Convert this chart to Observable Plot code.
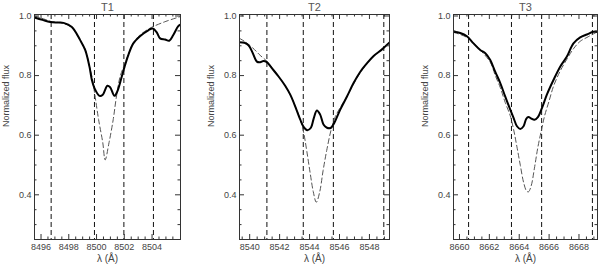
<!DOCTYPE html>
<html><head><meta charset="utf-8">
<script src="https://cdn.jsdelivr.net/npm/d3@7"></script>
<script src="https://cdn.jsdelivr.net/npm/@observablehq/plot@0.6"></script>
<style>
body{margin:0;background:#fff}
#wrap{position:relative;width:600px;height:268px;overflow:hidden;background:#fff}
#wrap svg{position:absolute;top:0}
</style></head><body><div id="wrap"></div>
<script>
// ---- data ----
const panelTitles = ["T1", "T2", "T3"];

// T1 observed (solid) spectrum
const t1Wave = [8495.53, 8496.10, 8496.66, 8497.20, 8497.62, 8498.22, 8498.82, 8499.18, 8499.49, 8499.66, 8499.85, 8500.21, 8500.45, 8500.78, 8500.98, 8501.29, 8501.50, 8501.82, 8501.99, 8502.29, 8502.65, 8503.13, 8503.73, 8504.05, 8504.34, 8504.58, 8504.94, 8505.24, 8505.53, 8505.89, 8506.04];
const t1Flux = [0.995, 0.987, 0.980, 0.978, 0.977, 0.963, 0.919, 0.886, 0.830, 0.786, 0.758, 0.732, 0.736, 0.766, 0.761, 0.732, 0.747, 0.797, 0.825, 0.869, 0.908, 0.932, 0.952, 0.958, 0.945, 0.925, 0.921, 0.917, 0.936, 0.966, 0.971];
// T1 model (dashed)
const t1ModelWave = [8495.53, 8496.20, 8496.70, 8497.60, 8498.20, 8498.80, 8499.20, 8499.50, 8499.70, 8499.85, 8500.15, 8500.45, 8500.62, 8500.90, 8501.20, 8501.42, 8501.70, 8502.00, 8502.30, 8502.65, 8503.10, 8503.70, 8504.10, 8505.00, 8506.04];
const t1Model = [1.000, 0.990, 0.982, 0.975, 0.962, 0.920, 0.886, 0.830, 0.790, 0.745, 0.652, 0.575, 0.517, 0.575, 0.652, 0.725, 0.797, 0.835, 0.872, 0.910, 0.935, 0.955, 0.965, 0.982, 0.998];
const t1Bands = [8496.73, 8499.85, 8501.97, 8504.10];
const t1XTicks = [8496, 8498, 8500, 8502, 8504];

// T2
const t2Wave = [8539.32, 8539.65, 8539.92, 8540.21, 8540.48, 8540.70, 8540.92, 8541.15, 8541.48, 8541.93, 8542.37, 8542.71, 8543.04, 8543.38, 8543.64, 8543.86, 8544.09, 8544.27, 8544.49, 8544.71, 8544.93, 8545.16, 8545.43, 8545.65, 8546.05, 8546.50, 8546.94, 8547.39, 8547.83, 8548.28, 8548.84, 8549.34];
const t2Flux = [0.912, 0.910, 0.902, 0.875, 0.847, 0.845, 0.849, 0.845, 0.825, 0.797, 0.766, 0.736, 0.697, 0.652, 0.625, 0.617, 0.625, 0.655, 0.683, 0.669, 0.636, 0.625, 0.625, 0.641, 0.686, 0.730, 0.775, 0.813, 0.841, 0.866, 0.888, 0.911];
const t2ModelWave = [8539.32, 8539.65, 8540.20, 8540.70, 8541.15, 8541.50, 8541.93, 8542.37, 8542.71, 8543.04, 8543.38, 8543.60, 8543.82, 8544.05, 8544.25, 8544.45, 8544.68, 8544.90, 8545.15, 8545.45, 8545.70, 8546.05, 8546.50, 8546.94, 8547.39, 8547.83, 8548.28, 8548.84, 8549.34];
const t2Model = [0.925, 0.915, 0.893, 0.868, 0.848, 0.826, 0.797, 0.766, 0.736, 0.697, 0.652, 0.610, 0.545, 0.470, 0.410, 0.375, 0.410, 0.480, 0.550, 0.620, 0.660, 0.693, 0.730, 0.772, 0.810, 0.840, 0.866, 0.888, 0.910];
const t2Bands = [8541.15, 8543.58, 8545.59, 8548.96];
const t2XTicks = [8540, 8542, 8544, 8546, 8548];

// T3
const t3Wave = [8659.60, 8660.05, 8660.50, 8660.94, 8661.39, 8661.73, 8662.06, 8662.39, 8662.73, 8663.06, 8663.40, 8663.62, 8663.85, 8664.07, 8664.29, 8664.47, 8664.62, 8664.80, 8665.02, 8665.25, 8665.52, 8665.85, 8666.30, 8666.74, 8667.19, 8667.63, 8668.08, 8668.53, 8668.97, 8669.24];
const t3Flux = [0.947, 0.943, 0.932, 0.908, 0.886, 0.875, 0.852, 0.813, 0.775, 0.730, 0.686, 0.658, 0.630, 0.621, 0.630, 0.655, 0.661, 0.656, 0.652, 0.661, 0.691, 0.736, 0.786, 0.830, 0.864, 0.908, 0.928, 0.938, 0.947, 0.947];
const t3ModelWave = [8659.60, 8660.50, 8661.40, 8662.06, 8662.40, 8662.73, 8663.06, 8663.40, 8663.62, 8663.85, 8664.07, 8664.30, 8664.50, 8664.62, 8664.80, 8665.02, 8665.25, 8665.50, 8665.70, 8666.00, 8666.30, 8666.74, 8667.19, 8667.63, 8668.08, 8668.53, 8668.97, 8669.24];
const t3Model = [0.945, 0.928, 0.885, 0.845, 0.800, 0.760, 0.710, 0.665, 0.620, 0.560, 0.500, 0.440, 0.412, 0.410, 0.430, 0.490, 0.560, 0.620, 0.665, 0.715, 0.765, 0.815, 0.855, 0.890, 0.915, 0.928, 0.940, 0.947];
const t3Bands = [8660.61, 8663.48, 8665.50, 8668.90];
const t3XTicks = [8660, 8662, 8664, 8666, 8668];

const yTicks = [0.4, 0.6, 0.8, 1.0];
const yLabel = "Normalized flux";
const xLabel = "λ (Å)";

// ---- layout ----
const panels = [
  {title: panelTitles[0], wave: t1Wave, flux: t1Flux, mWave: t1ModelWave, model: t1Model, bands: t1Bands, xticks: t1XTicks, domain: [8495.53, 8506.05], left: 0, ml: 34, mr: 20},
  {title: panelTitles[1], wave: t2Wave, flux: t2Flux, mWave: t2ModelWave, model: t2Model, bands: t2Bands, xticks: t2XTicks, domain: [8539.32, 8549.34], left: 200, ml: 39, mr: 11},
  {title: panelTitles[2], wave: t3Wave, flux: t3Flux, mWave: t3ModelWave, model: t3Model, bands: t3Bands, xticks: t3XTicks, domain: [8659.60, 8669.24], left: 400, ml: 53, mr: 3}
];

const W = 200, H = 268, MT = 14, MB = 29;
const yDomain = [0.25, 1.005];
const wrap = document.getElementById("wrap");

for (const p of panels) {
  const pw = W - p.ml - p.mr, ph = H - MT - MB;
  const obs = p.wave.map((w, i) => ({w, f: p.flux[i]}));
  const mod = p.mWave.map((w, i) => ({w, f: p.model[i]}));
  const xMinor = d3.range(Math.ceil(p.domain[0] * 2) / 2, p.domain[1], 0.5).filter(v => v % 2 !== 0);
  const yMinor = d3.range(0.25, 1.0001, 0.05).map(v => +v.toFixed(2)).filter(v => !yTicks.some(t => Math.abs(t - v) < 1e-6));
  const chart = Plot.plot({
    width: W, height: H,
    marginTop: MT, marginBottom: MB, marginLeft: p.ml, marginRight: p.mr,
    style: {fontFamily: "'Liberation Sans', Arial, sans-serif", fontSize: "9px", color: "#444", background: "transparent"},
    x: {domain: p.domain},
    y: {domain: yDomain},
    marks: [
      Plot.ruleX(p.bands, {x: d => d, stroke: "#111", strokeWidth: 1, strokeDasharray: "5,3"}),
      Plot.line(mod, {x: "w", y: "f", stroke: "#555", strokeWidth: 1, strokeDasharray: "5,3", curve: "catmull-rom", clip: true}),
      Plot.line(obs, {x: "w", y: "f", stroke: "#000", strokeWidth: 2, curve: "catmull-rom", clip: true}),
      Plot.frame({stroke: "#333", strokeWidth: 1}),
      // inward ticks, IDL style: bottom & top
      Plot.tickX(p.xticks, {x: d => d, stroke: "#333", insetTop: ph - 5}),
      Plot.tickX(p.xticks, {x: d => d, stroke: "#333", insetBottom: ph - 5}),
      Plot.tickX(xMinor, {x: d => d, stroke: "#333", insetTop: ph - 2.5}),
      Plot.tickX(xMinor, {x: d => d, stroke: "#333", insetBottom: ph - 2.5}),
      // left & right
      Plot.tickY(yTicks, {y: d => d, stroke: "#333", insetRight: pw - 5}),
      Plot.tickY(yTicks, {y: d => d, stroke: "#333", insetLeft: pw - 5}),
      Plot.tickY(yMinor, {y: d => d, stroke: "#333", insetRight: pw - 2.5}),
      Plot.tickY(yMinor, {y: d => d, stroke: "#333", insetLeft: pw - 2.5}),
      Plot.axisX({ticks: p.xticks, tickSize: 0, tickPadding: 4, tickFormat: d => String(d), label: null}),
      Plot.axisY({ticks: yTicks, tickSize: 0, tickPadding: 3, tickFormat: d3.format(".1f"), label: null}),
      Plot.text([xLabel], {text: d => d, frameAnchor: "bottom", dy: 19, lineAnchor: "middle", fontSize: 10, fill: "#444"}),
      Plot.text([yLabel], {text: d => d, frameAnchor: "left", dx: -28, rotate: -90, lineAnchor: "middle", fontSize: 9, fill: "#444"}),
      Plot.text([p.title], {text: d => d, frameAnchor: "top", dy: -7, lineAnchor: "middle", fontSize: 11, fill: "#555"})
    ]
  });
  chart.style.left = p.left + "px";
  wrap.appendChild(chart);
}
</script></body></html>
